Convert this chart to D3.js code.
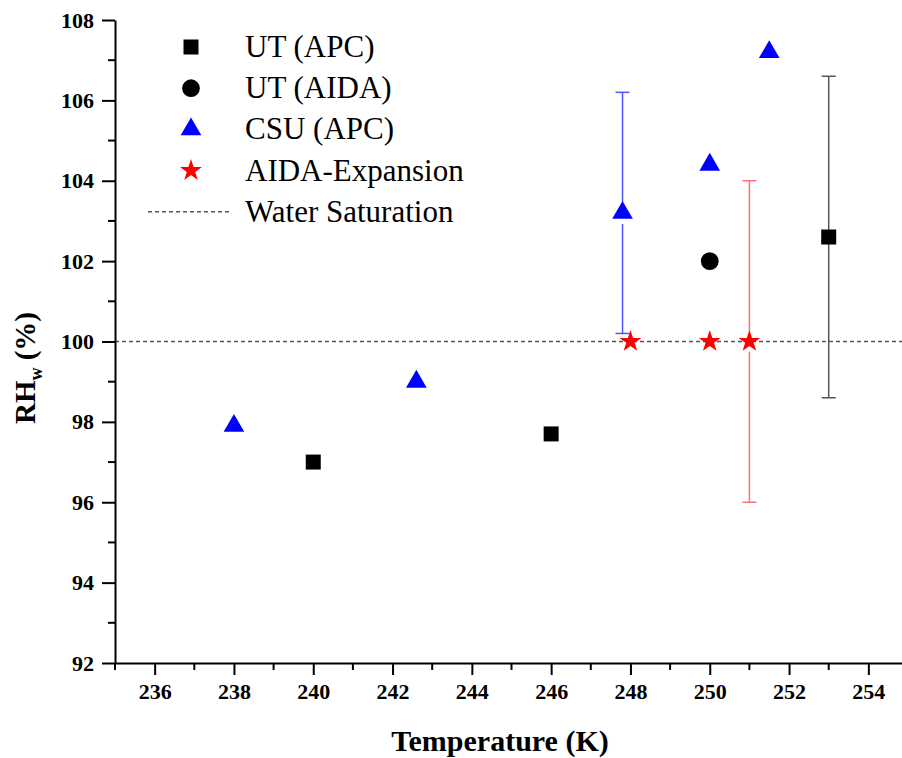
<!DOCTYPE html>
<html>
<head>
<meta charset="utf-8">
<script src="https://cdn.jsdelivr.net/npm/d3@7"></script>
<style>
  body { margin: 0; background: #fff; }
</style>
</head>
<body>
<div id="container"></div>
<script>
// UT (APC)
const utApcT = [240, 246, 253];
const utApcRH = [97.0, 97.7, 102.6];
const utApcErr = [0, 0, 4.0];
// UT (AIDA)
const utAidaT = [250];
const utAidaRH = [102.0];
// CSU (APC)
const csuT = [238, 242.6, 247.8, 250, 251.5];
const csuRH = [97.9, 99.0, 103.2, 104.4, 107.2];
const csuErr = [0, 0, 3.0, 0, 0];
// AIDA-Expansion
const aidaT = [248, 250, 251];
const aidaRH = [100, 100, 100];
const aidaErr = [0, 0, 4.0];

const waterSat = 100;
const legendLabels = ["UT (APC)", "UT (AIDA)", "CSU (APC)", "AIDA-Expansion", "Water Saturation"];
const xTicks = [236, 238, 240, 242, 244, 246, 248, 250, 252, 254];
const yTicks = [92, 94, 96, 98, 100, 102, 104, 106, 108];

const width = 902;
const height = 758;
const serif = "'Liberation Serif', 'DejaVu Serif', serif";

const svg = d3.select("#container")
	.append("svg")
		.attr("width", width)
		.attr("height", height)
		.attr("font-family", serif);

const x = d3.scaleLinear().domain([235, 255]).range([115, 908]);
const y = d3.scaleLinear().domain([92, 108]).range([663, 20]);

const series = [
	{ T: utApcT, RH: utApcRH, err: utApcErr, type: d3.symbolSquare, size: 225, fill: "#000", bar: "#555", gap: 0 },
	{ T: utAidaT, RH: utAidaRH, err: null, type: d3.symbolCircle, size: 246, fill: "#000", bar: "#555", gap: 0 },
	{ T: csuT, RH: csuRH, err: csuErr, type: d3.symbolTriangle, size: 185, fill: "#0000ff", bar: "#5555ff", gap: 11 },
	{ T: aidaT, RH: aidaRH, err: aidaErr, type: d3.symbolStar, size: 150, fill: "#ff0000", bar: "#ff7070", gap: 10 }
];

// water saturation line
svg.append("line")
	.attr("x1", x(235)).attr("x2", width)
	.attr("y1", y(waterSat)).attr("y2", y(waterSat))
	.attr("stroke", "#555")
	.attr("stroke-width", 1.4)
	.attr("stroke-dasharray", "4,3");

// error bars
series.forEach((s) => {
	if (!s.err) return;
	const pts = s.T.map((t, i) => ({ t: t, v: s.RH[i], e: s.err[i] })).filter((d) => d.e > 0);
	const g = svg.append("g").attr("stroke", s.bar).attr("stroke-width", 1.5).attr("fill", "none");
	pts.forEach((d) => {
		const cx = x(d.t);
		g.append("line").attr("x1", cx).attr("x2", cx)
			.attr("y1", y(d.v + d.e)).attr("y2", y(d.v) - s.gap);
		g.append("line").attr("x1", cx).attr("x2", cx)
			.attr("y1", y(d.v) + s.gap).attr("y2", y(d.v - d.e));
		g.append("line").attr("x1", cx - 7).attr("x2", cx + 7)
			.attr("y1", y(d.v + d.e)).attr("y2", y(d.v + d.e));
		g.append("line").attr("x1", cx - 7).attr("x2", cx + 7)
			.attr("y1", y(d.v - d.e)).attr("y2", y(d.v - d.e));
	});
});

// markers
series.forEach((s) => {
	svg.append("g")
		.selectAll("path")
		.data(s.T.map((t, i) => [t, s.RH[i]]))
		.enter()
		.append("path")
			.attr("d", d3.symbol().type(s.type).size(s.size))
			.attr("transform", (d) => `translate(${x(d[0])},${y(d[1])})`)
			.attr("fill", s.fill);
});

// axes
const xMinor = d3.range(235, 256, 1).filter((v) => v % 2 === 1);
const yMinor = d3.range(93, 108, 2);

const xAxis = svg.append("g")
	.attr("transform", `translate(0,${y(92)})`)
	.call(d3.axisBottom(x).tickValues(xTicks).tickSize(12).tickPadding(8).tickSizeOuter(0));
xAxis.append("g").selectAll("line").data(xMinor).enter().append("line")
	.attr("x1", (d) => x(d)).attr("x2", (d) => x(d))
	.attr("y1", 0).attr("y2", 7);

const yAxis = svg.append("g")
	.attr("transform", `translate(${x(235)},0)`)
	.call(d3.axisLeft(y).tickValues(yTicks).tickSize(13).tickPadding(8).tickSizeOuter(0));
yAxis.append("g").selectAll("line").data(yMinor).enter().append("line")
	.attr("x1", 0).attr("x2", -7)
	.attr("y1", (d) => y(d)).attr("y2", (d) => y(d));

[xAxis, yAxis].forEach((a) => {
	a.attr("font-family", serif);
	a.selectAll("path, line").attr("stroke", "#000").attr("stroke-width", 2);
	a.selectAll("text")
		.attr("fill", "#000")
		.attr("font-family", serif)
		.attr("font-weight", "bold")
		.attr("font-size", 22);
});

// axis titles
svg.append("text")
	.attr("x", 500).attr("y", 751)
	.attr("text-anchor", "middle")
	.attr("font-family", serif)
	.attr("font-weight", "bold")
	.attr("font-size", 30)
	.text("Temperature (K)");

const yTitle = svg.append("text")
	.attr("transform", "translate(35,368) rotate(-90)")
	.attr("text-anchor", "middle")
	.attr("font-family", serif)
	.attr("font-weight", "bold")
	.attr("font-size", 29);
yTitle.append("tspan").text("RH");
yTitle.append("tspan").attr("dy", 7).attr("font-size", 18).text("w");
yTitle.append("tspan").attr("dy", -7).text(" (%)");

// legend
const legend = svg.append("g");
const rowY = (i) => 47 + i * 41.2;
series.forEach((s, i) => {
	legend.append("path")
		.attr("d", d3.symbol().type(s.type).size(s.size))
		.attr("transform", `translate(191,${rowY(i)})`)
		.attr("fill", s.fill);
});
legend.append("line")
	.attr("x1", 148).attr("x2", 230)
	.attr("y1", rowY(4)).attr("y2", rowY(4))
	.attr("stroke", "#555").attr("stroke-width", 1.4)
	.attr("stroke-dasharray", "4,3");
legend.selectAll("text")
	.data(legendLabels).enter()
	.append("text")
		.attr("x", 245)
		.attr("y", (d, i) => rowY(i) + 10)
		.attr("font-family", serif)
		.attr("font-size", 31)
		.attr("fill", "#000")
		.text((d) => d);
</script>
</body>
</html>
